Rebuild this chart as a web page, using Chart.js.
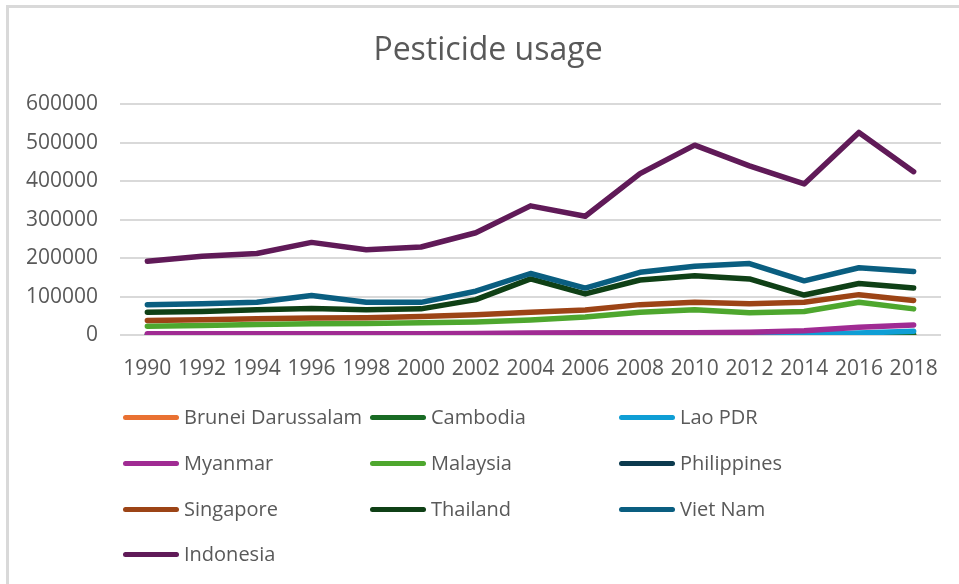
<!DOCTYPE html>
<html>
<head>
<meta charset="utf-8">
<title>Pesticide usage</title>
<script src="https://cdn.jsdelivr.net/npm/chart.js@4/dist/chart.umd.min.js"></script>
<style>
    html, body { margin: 0; padding: 0; background: #ffffff; }
    #wrap { position: relative; width: 959px; height: 584px; overflow: hidden; }
    #frame {
        position: absolute; left: 6px; top: 5px; right: -10px; bottom: -10px;
        border-left: 3px solid #d9d9d9; border-top: 3px solid #d9d9d9;
        pointer-events: none;
    }
    #legend { position: absolute; left: 0; top: 0; width: 959px; height: 584px; pointer-events: none;
        font-family: "Open Sans", sans-serif; font-size: 20px; color: #595959; }
    .item { position: absolute; height: 26px; line-height: 26px; white-space: nowrap; }
    .item .swatch { position: absolute; left: 0; top: 11px; width: 56px; height: 5px; border-radius: 3px; }
    .item .label { position: absolute; left: 61px; top: 0; }
</style>
</head>
<body>
<div id="wrap">
    <canvas id="myChart" width="959" height="584"></canvas>
    <div id="frame"></div>
    <div id="legend"></div>
</div>
<script>
// Chart values (every two years)
const years = ['1990', '1992', '1994', '1996', '1998', '2000', '2002', '2004', '2006', '2008', '2010', '2012', '2014', '2016', '2018'];
const yTicks = [0, 100000, 200000, 300000, 400000, 500000, 600000];

const brunei = [100, 100, 100, 100, 100, 100, 100, 100, 100, 100, 100, 100, 100, 100, 200];
const cambodia = [300, 300, 300, 300, 300, 300, 300, 300, 300, 300, 300, 300, 300, 300, 300];
const lao = [0, 0, 0, 0, 0, 0, 0, 0, 0, 0, 0, 0, 1000, 5000, 10000];
const myanmar = [3000, 3000, 3000, 3000, 3000, 3000, 4000, 5000, 6000, 6000, 6000, 7000, 11000, 20000, 26000];
const malaysia = [23000, 25000, 27000, 29000, 30000, 32000, 34000, 39000, 47000, 59000, 66000, 58000, 61000, 85000, 68000];
const philippines = [null, null, null, null, null, null, null, null, null, null, null, null, null, null, null];
const singapore = [38000, 40000, 42000, 44000, 45000, 48000, 53000, 59000, 65000, 79000, 85000, 81000, 85000, 105000, 90000];
const thailand = [59000, 61000, 66000, 69000, 66000, 68000, 92000, 146000, 107000, 143000, 154000, 146000, 104000, 134000, 122000];
const vietnam = [79000, 81000, 85000, 103000, 85000, 85000, 114000, 160000, 122000, 163000, 179000, 186000, 141000, 175000, 165000];
const indonesia = [192000, 205000, 212000, 241000, 222000, 229000, 266000, 336000, 309000, 420000, 494000, 440000, 393000, 527000, 425000];

document.addEventListener('DOMContentLoaded', function() {
    const textGrey = '#595959';

    function series(label, data, color) {
        return {
            label: label,
            data: data,
            borderColor: color,
            backgroundColor: color,
            borderWidth: 5.5,
            pointRadius: 0,
            borderCapStyle: 'round',
            borderJoinStyle: 'round',
            tension: 0,
            spanGaps: false
        };
    }

    const datasets = [
        series('Brunei Darussalam', brunei, '#E97132'),
        series('Cambodia', cambodia, '#196B24'),
        series('Lao PDR', lao, '#0F9ED5'),
        series('Myanmar', myanmar, '#A02B93'),
        series('Malaysia', malaysia, '#4EA72E'),
        series('Philippines', philippines, '#0C3A4E'),
        series('Singapore', singapore, '#9C4416'),
        series('Thailand', thailand, '#0F4016'),
        series('Viet Nam', vietnam, '#0A5E80'),
        series('Indonesia', indonesia, '#601A58')
    ];

    // Excel draws the first series at the back
    datasets.forEach(function(ds, i) { ds.order = datasets.length - i; });

    const ctx = document.getElementById('myChart').getContext('2d');
    const chart = new Chart(ctx, {
        type: 'line',
        data: { labels: years, datasets: datasets },
        options: {
            responsive: false,
            animation: false,
            // uneven padding moves the title centre to where Excel had it;
            // the empty right axis keeps the plot's right edge in place
            layout: { padding: { left: 17, right: 0, top: 20, bottom: 0 } },
            plugins: {
                legend: { display: false },
                tooltip: { enabled: false },
                title: {
                    display: true,
                    text: 'Pesticide usage',
                    color: textGrey,
                    font: { family: 'Open Sans', size: 32, weight: 'normal' },
                    padding: { top: 12, bottom: 34 }
                }
            },
            scales: {
                x: {
                    offset: true,
                    grid: { display: false },
                    border: { display: false },
                    ticks: {
                        color: textGrey,
                        font: { family: 'Open Sans', size: 21 },
                        maxRotation: 0,
                        autoSkip: false,
                        padding: 13
                    },
                    afterFit: function(scale) { scale.height = 249; }
                },
                y: {
                    min: 0,
                    max: 600000,
                    afterBuildTicks: function(scale) {
                        scale.ticks = yTicks.map(function(v) { return { value: v }; });
                    },
                    grid: { color: '#d9d9d9', lineWidth: 2, drawTicks: false },
                    border: { display: false },
                    ticks: {
                        color: textGrey,
                        font: { family: 'Open Sans', size: 21 },
                        padding: 22,
                        callback: function(v) { return String(v); }
                    },
                    afterFit: function(scale) { scale.width = 103; }
                },
                spacer: {
                    type: 'linear',
                    position: 'right',
                    min: 0,
                    max: 1,
                    grid: { display: false },
                    border: { display: false },
                    ticks: { display: false },
                    afterFit: function(scale) { scale.width = 18; }
                }
            }
        }
    });

    // Legend in three columns, built from the chart's own datasets
    const legend = document.getElementById('legend');
    const colX = [123, 370, 619];
    const rowY = [404, 450, 496, 541];
    chart.data.datasets.forEach(function(ds, i) {
        const item = document.createElement('div');
        item.className = 'item';
        item.style.left = colX[i % 3] + 'px';
        item.style.top = rowY[Math.floor(i / 3)] + 'px';
        const sw = document.createElement('span');
        sw.className = 'swatch';
        sw.style.background = ds.borderColor;
        const lb = document.createElement('span');
        lb.className = 'label';
        lb.textContent = ds.label;
        item.appendChild(sw);
        item.appendChild(lb);
        legend.appendChild(item);
    });
});
</script>
</body>
</html>
